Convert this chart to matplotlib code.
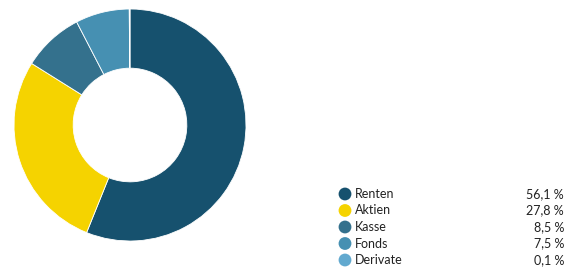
import matplotlib.pyplot as plt

labels = ['Renten', 'Aktien', 'Kasse', 'Fonds', 'Derivate']
values = [56.1, 27.8, 8.5, 7.5, 0.1]
value_labels = ['56,1 %', '27,8 %', '8,5 %', '7,5 %', '0,1 %']
colors = ['#16516e', '#f5d300', '#34718d', '#4690b2', '#62a9cf']

plt.rcParams['font.family'] = ['Lato', 'DejaVu Sans']

fig = plt.figure(figsize=(5.75, 2.68), dpi=100)

# donut
ax = fig.add_axes([14 / 575, 1 - 241 / 268, 232 / 575, 232 / 268])
ax.pie(values, colors=colors, startangle=90, counterclock=False, radius=1,
       wedgeprops=dict(width=0.51, edgecolor='white', linewidth=0.6))
ax.set_xlim(-1, 1)
ax.set_ylim(-1, 1)
ax.set_aspect('equal')
ax.axis('off')

# legend as a small table
leg = fig.add_axes([0, 0, 1, 1])
leg.set_xlim(0, 575)
leg.set_ylim(268, 0)
leg.axis('off')
y0, dy = 194, 16.5
for i, (lab, val, c) in enumerate(zip(labels, value_labels, colors)):
    y = y0 + i * dy
    leg.scatter([345], [y], s=85, color=c, edgecolors='none')
    leg.text(355, y, lab, fontsize=9, va='center', ha='left', color='#222222')
    leg.text(564, y, val, fontsize=9, va='center', ha='right', color='#222222')

fig.savefig('out.png', dpi=100)
